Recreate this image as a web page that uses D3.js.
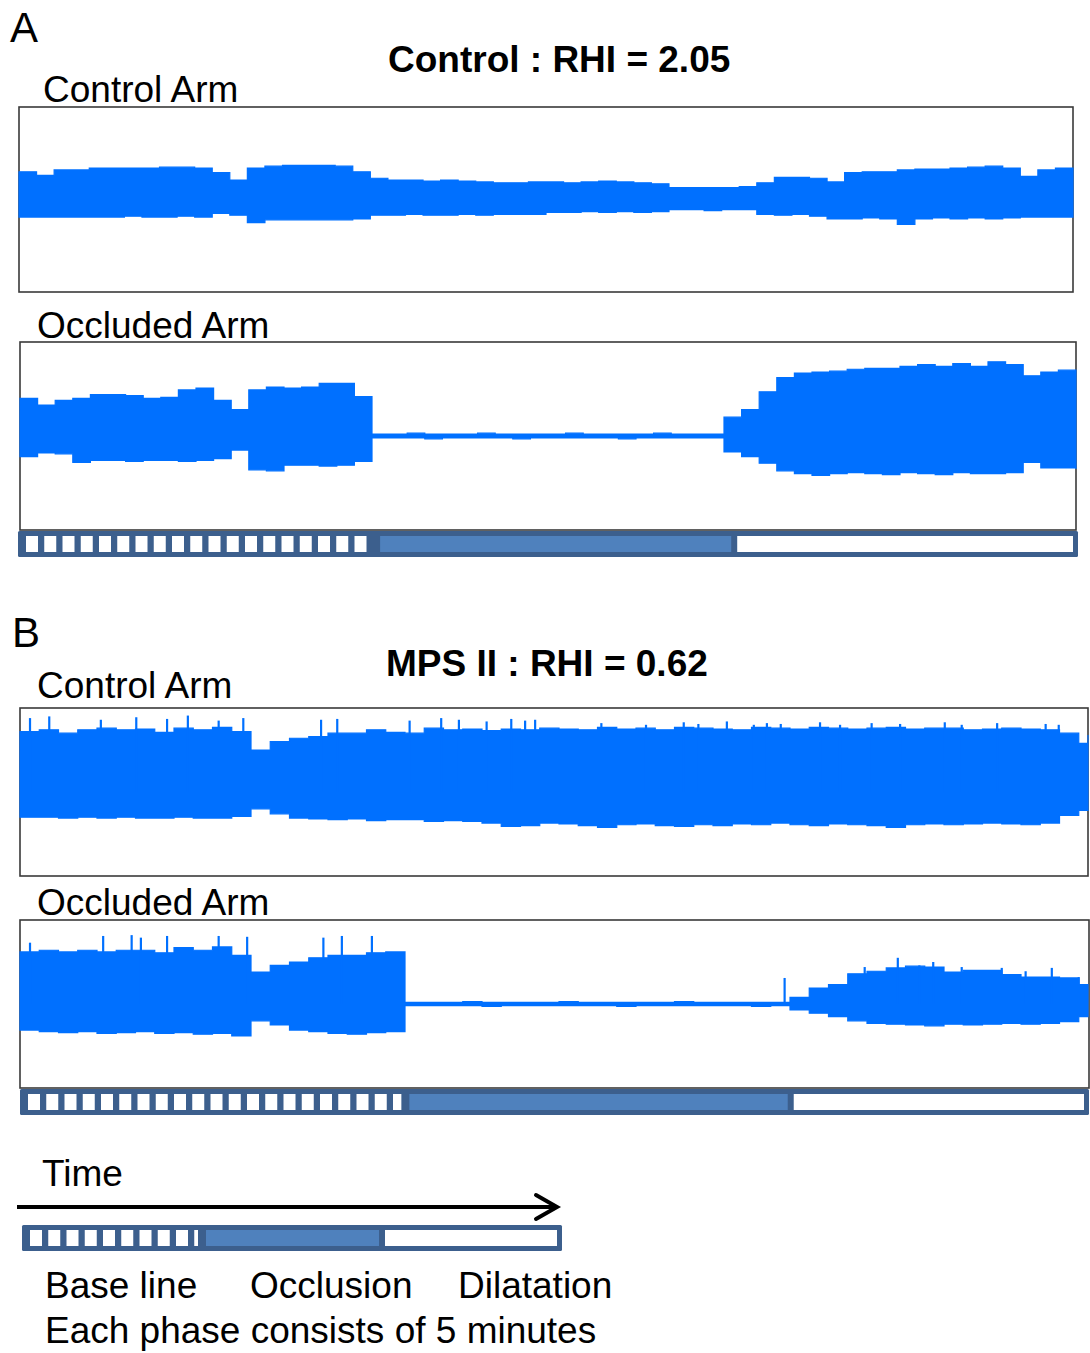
<!DOCTYPE html>
<html>
<head>
<meta charset="utf-8">
<script src="https://cdn.jsdelivr.net/npm/d3@7"></script>
<style>
  body { margin: 0; background: #fff; }
  svg { display: block; font-family: "Liberation Sans", Arial, sans-serif; }
</style>
</head>
<body>
<div id="chart"></div>
<script>
// minutes between envelope samples
var step = 0.25;

var panelLetters = ["A", "B"];
var panelTitles = ["Control : RHI = 2.05", "MPS II : RHI = 0.62"];
var armNames = ["Control Arm", "Occluded Arm"];
var phaseNames = ["Base line", "Occlusion", "Dilatation"];
var phaseMinutes = [5, 5, 5];
var footnote = "Each phase consists of 5 minutes";

// recording length (min) of each panel
var minutesA = 15, minutesB = 13.87;

// PAT signal envelopes, arbitrary units (-100..100 = full box)
// A, control arm
var aCtrlUpper = [30,26,32,32,34,34,34,34,35,35, 34,29,21,34,36,37,37,37,36,30,
  23,21,21,20,21,20,19,18,18,19, 19,18,19,20,19,18,17,13,13,13,
  13,14,18,24,24,23,19,29,30,30, 32,33,33,34,35,36,34,25,32,34, 30];
var aCtrlLower = [-19,-19,-19,-19,-19,-19,-18,-19,-19,-18, -19,-15,-17,-25,-22,-22,-22,-22,-22,-21,
  -17,-17,-16,-17,-17,-16,-17,-16,-16,-16, -14,-14,-13,-14,-13,-14,-13,-11,-11,-12,
  -11,-11,-16,-17,-16,-18,-21,-21,-20,-21, -27,-21,-20,-21,-20,-21,-20,-19,-19,-19, -18];
// A, occluded arm
var aOccUpper = [40,33,38,40,44,44,43,40,41,49, 51,38,28,49,52,51,52,56,56,42,
  2,2,3,2,2,2,3,2,2,2, 2,3,2,2,2,2,3,2,2,2,
  20,28,47,62,67,68,69,71,72,72, 74,76,74,77,74,79,76,64,68,70, 62];
var aOccLower = [-22,-18,-19,-28,-26,-26,-27,-26,-26,-27, -26,-24,-15,-36,-37,-31,-31,-32,-31,-27,
  -2,-2,-2,-3,-2,-2,-2,-2,-3,-2, -2,-2,-2,-2,-3,-2,-2,-2,-2,-2,
  -17,-22,-29,-37,-40,-42,-40,-39,-40,-41, -39,-40,-41,-39,-40,-40,-39,-28,-34,-34, -35];
// B, control arm
var bCtrlUpper = [72,74,70,74,76,74,75,71,76,74, 77,72,50,60,64,66,70,70,74,71,
  70,76,74,75,73,75,74,76,75,74, 77,75,76,74,77,76,75,74,77,76,
  75,77,76,75,76,77,75,76,76,74, 75,76,75,74,70,58,68];
var bCtrlLower = [-30,-30,-31,-30,-31,-30,-31,-31,-30,-31, -31,-29,-20,-26,-31,-32,-33,-32,-34,-33,
  -33,-35,-34,-35,-37,-41,-40,-37,-38,-40, -42,-39,-38,-40,-41,-39,-40,-38,-39,-37,
  -39,-40,-38,-39,-40,-42,-39,-38,-39,-38, -37,-38,-39,-37,-28,-22,-22];
var bCtrlSpikeT = [0.13,0.38,1.05,1.51,1.91,2.18,2.58,2.9,3.91,4.12,5.06,5.47,5.7,6.06,6.38,6.56,6.69,
  7.55,8.13,8.62,8.81,9.18,9.53,9.7,9.88,10.39,10.65,11.06,11.43,12.01,12.23,12.69,13.32,13.49];
var bCtrlSpikeV = [88,90,86,89,87,91,85,88,86,87,85,88,86,84,87,85,86,
  82,80,83,81,84,80,82,81,83,80,82,81,83,80,82,81,80];
// B, occluded arm
var bOccUpper = [62,64,62,64,62,64,64,61,67,64, 68,58,38,46,50,55,58,58,61,62,
  2,2,2,3,2,2,2,2,3,2, 2,2,2,2,3,2,2,2,2,2,
  8,19,23,36,39,43,45,44,38,40, 40,35,32,32,31,23,23];
var bOccLower = [-31,-33,-34,-33,-35,-34,-33,-35,-34,-36, -35,-38,-20,-25,-31,-33,-35,-36,-34,-33,
  -2,-2,-2,-2,-3,-2,-2,-2,-2,-2, -2,-3,-2,-2,-2,-2,-2,-2,-3,-2,
  -7,-11,-15,-20,-23,-24,-25,-26,-24,-25, -24,-23,-24,-23,-21,-15,-15];
var bOccSpikeT = [0.13,1.08,1.45,1.57,1.91,2.58,2.95,3.94,4.18,4.57,
  9.93,10.97,11.4,11.68,11.86,12.23,12.75,13.06,13.4,13.75];
var bOccSpikeV = [73,81,82,79,81,81,80,79,81,81,
  31,44,55,46,50,44,43,39,43,32];

var blue = "#0070ff",
    barDark = "#3c5f8d",
    barMid = "#4f81bd",
    boxStroke = "#3a3a3a";

var svg = d3.select("#chart").append("svg")
  .attr("width", 1090)
  .attr("height", 1353);

function label(txt, x, y, size, weight) {
  svg.append("text")
    .attr("x", x).attr("y", y)
    .style("font-size", size + "px")
    .style("font-weight", weight || "normal")
    .attr("fill", "#000")
    .text(txt);
}

//draw one recording box with its envelope
function drawTrace(box, minutes, upper, lower, spikeT, spikeV) {
  var x = d3.scaleLinear().domain([0, minutes]).range([box.x0, box.x1]);
  var y = d3.scaleLinear().domain([-100, 100]).range([box.y1, box.y0]);

  svg.append("rect")
    .attr("x", box.x0).attr("y", box.y0)
    .attr("width", box.bx1 - box.x0).attr("height", box.y1 - box.y0)
    .attr("fill", "#fff")
    .attr("stroke", boxStroke)
    .attr("stroke-width", 1.6);

  var pts = upper.map(function(u, i) {
    return {t: Math.min(i * step, minutes), hi: u, lo: lower[i]};
  });

  var area = d3.area()
    .curve(d3.curveStepAfter)
    .x(function(d) { return x(d.t); })
    .y0(function(d) { return y(d.lo); })
    .y1(function(d) { return y(d.hi); });

  var g = svg.append("g");
  g.append("path")
    .datum(pts)
    .attr("d", area)
    .attr("fill", blue)
    .attr("stroke", blue)
    .attr("stroke-width", 1.2)
    .attr("stroke-linejoin", "miter");

  if (spikeT) {
    g.selectAll("line")
      .data(spikeT)
      .enter()
      .append("line")
      .attr("x1", function(d) { return x(d); })
      .attr("x2", function(d) { return x(d); })
      .attr("y1", y(0))
      .attr("y2", function(d, i) { return y(spikeV[i]); })
      .attr("stroke", blue)
      .attr("stroke-width", 2.2);
  }
}

//phase bar: squares = base line, filled = occlusion, white = dilatation
function drawBar(x0, x1, yTop, minutes) {
  var x = d3.scaleLinear().domain([0, minutes]).range([x0, x1]);
  var b1 = x(phaseMinutes[0]),
      b2 = x(phaseMinutes[0] + phaseMinutes[1]);
  var H = 26, pad = 5;
  var g = svg.append("g");

  g.append("rect")
    .attr("x", x0).attr("y", yTop)
    .attr("width", x1 - x0).attr("height", H)
    .attr("rx", 1.5)
    .attr("fill", barDark);

  var sqEnd = b1 - 4;
  g.selectAll("rect.sq")
    .data(d3.range(x0 + 8, sqEnd, 18.25))
    .enter()
    .append("rect")
    .attr("class", "sq")
    .attr("x", function(d) { return d; })
    .attr("y", yTop + pad)
    .attr("width", function(d) { return Math.min(12, sqEnd - d); })
    .attr("height", H - 2 * pad)
    .attr("fill", "#fff");

  g.append("rect")
    .attr("x", b1 + 4).attr("y", yTop + pad)
    .attr("width", b2 - 3 - (b1 + 4)).attr("height", H - 2 * pad)
    .attr("fill", barMid);

  g.append("rect")
    .attr("x", b2 + 3).attr("y", yTop + pad)
    .attr("width", x1 - 5 - (b2 + 3)).attr("height", H - 2 * pad)
    .attr("fill", "#fff");
}

// ---- panel A ----
label(panelLetters[0], 10, 42, 42);
label(panelTitles[0], 388, 72, 37, "bold");
label(armNames[0], 43, 102, 37);
drawTrace({x0: 19, x1: 1073, bx1: 1073, y0: 107, y1: 292}, minutesA, aCtrlUpper, aCtrlLower);
label(armNames[1], 37, 338, 37);
drawTrace({x0: 20, x1: 1076, bx1: 1076, y0: 342, y1: 530}, minutesA, aOccUpper, aOccLower);
drawBar(18, 1078, 531, 14.8);

// ---- panel B ----
label(panelLetters[1], 12, 647, 42);
label(panelTitles[1], 386, 676, 37, "bold");
label(armNames[0], 37, 698, 37);
drawTrace({x0: 20, x1: 1088, bx1: 1088, y0: 708, y1: 876}, minutesB, bCtrlUpper, bCtrlLower, bCtrlSpikeT, bCtrlSpikeV);
label(armNames[1], 37, 915, 37);
drawTrace({x0: 20, x1: 1088, bx1: 1089, y0: 920, y1: 1088}, minutesB, bOccUpper, bOccLower, bOccSpikeT, bOccSpikeV);
drawBar(20, 1089, 1089, minutesB);

// ---- legend ----
label("Time", 42, 1186, 37);
svg.append("line")
  .attr("x1", 17).attr("x2", 555)
  .attr("y1", 1207).attr("y2", 1207)
  .attr("stroke", "#000").attr("stroke-width", 4);
svg.append("polyline")
  .attr("points", "536,1195 557,1207 536,1219")
  .attr("fill", "none")
  .attr("stroke", "#000").attr("stroke-width", 4)
  .attr("stroke-linecap", "round").attr("stroke-linejoin", "miter");
drawBar(22, 562, 1225, d3.sum(phaseMinutes));

var legendX = [45, 250, 458];
phaseNames.forEach(function(n, i) { label(n, legendX[i], 1298, 37); });
label(footnote, 45, 1343, 37);
</script>
</body>
</html>
